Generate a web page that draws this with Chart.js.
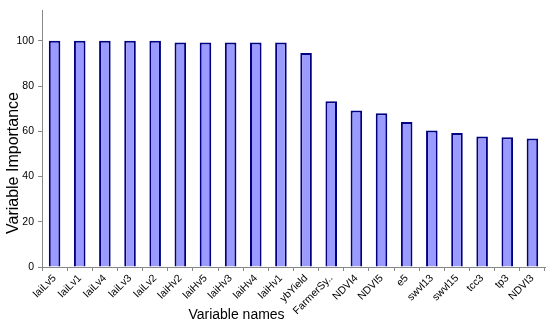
<!DOCTYPE html>
<html>
<head>
<meta charset="utf-8">
<script src="https://cdn.jsdelivr.net/npm/chart.js@4/dist/chart.umd.min.js"></script>
<style>
html,body{margin:0;padding:0;background:#fff;}
#wrap{width:550px;height:325px;position:relative;}
</style>
</head>
<body>
<div id="wrap"><canvas id="c" width="550" height="325"></canvas></div>
<script>
const categories = ["laiLv5","laiLv1","laiLv4","laiLv3","laiLv2","laiHv2","laiHv5","laiHv3","laiHv4","laiHv1","ybYield","FarmerSy..","NDVI4","NDVI5","e5","swvl13","swvl15","tcc3","tp3","NDVI3"];
const importance = [100,100,100,100,100,99.3,99.3,99.3,99.3,99.3,94.6,73.3,69.2,68.0,64.1,60.3,59.3,57.7,57.4,56.8];
const yTicks = [0,20,40,60,80,100];
const xTitle = 'Variable names';
const yTitle = 'Variable Importance';

// axis titles drawn off-centre, as in the reference
const offsetTitles = {
  id: 'offsetTitles',
  afterDraw(chart) {
    const ctx = chart.ctx;
    ctx.save();
    ctx.fillStyle = '#000';
    ctx.textAlign = 'center';
    ctx.textBaseline = 'middle';
    ctx.font = '14px "Liberation Sans"';
    ctx.fillText(xTitle, 236.5, 315);
    ctx.translate(14, 163);
    ctx.rotate(-Math.PI / 2);
    ctx.font = '16px "Liberation Sans"';
    ctx.fillText(yTitle, 0, 0);
    ctx.restore();
  }
};

new Chart(document.getElementById('c'), {
  type: 'bar',
  data: {
    labels: categories,
    datasets: [{
      data: importance,
      backgroundColor: '#9b9bff',
      borderColor: '#000080',
      borderWidth: 2,
      borderSkipped: 'bottom',
      categoryPercentage: 1,
      barPercentage: 0.46
    }]
  },
  plugins: [offsetTitles],
  options: {
    responsive: false,
    animation: false,
    layout: {padding: {top: 6, right: 5, bottom: 0, left: 0}},
    plugins: {legend: {display: false}, tooltip: {enabled: false}},
    scales: {
      x: {
        afterFit: (axis) => { axis.height = 58; },
        grid: {display: true, drawOnChartArea: false, color: '#888', tickLength: 4, offset: true},
        border: {display: true, color: '#888', width: 1},
        ticks: {color: '#000', font: {family: 'Liberation Sans', size: 10.5}, minRotation: 45, maxRotation: 45, padding: 1, autoSkip: false},
        title: {display: false}
      },
      y: {
        min: 0,
        max: 113.5,
        afterBuildTicks: (axis) => { axis.ticks = yTicks.map(v => ({value: v})); },
        afterFit: (axis) => { axis.width = 42; },
        grid: {display: true, drawOnChartArea: false, color: '#888', tickLength: 4},
        border: {display: true, color: '#888', width: 1},
        ticks: {color: '#000', font: {family: 'Liberation Sans', size: 10.5}, padding: 4},
        title: {display: false}
      }
    }
  }
});
</script>
</body>
</html>
